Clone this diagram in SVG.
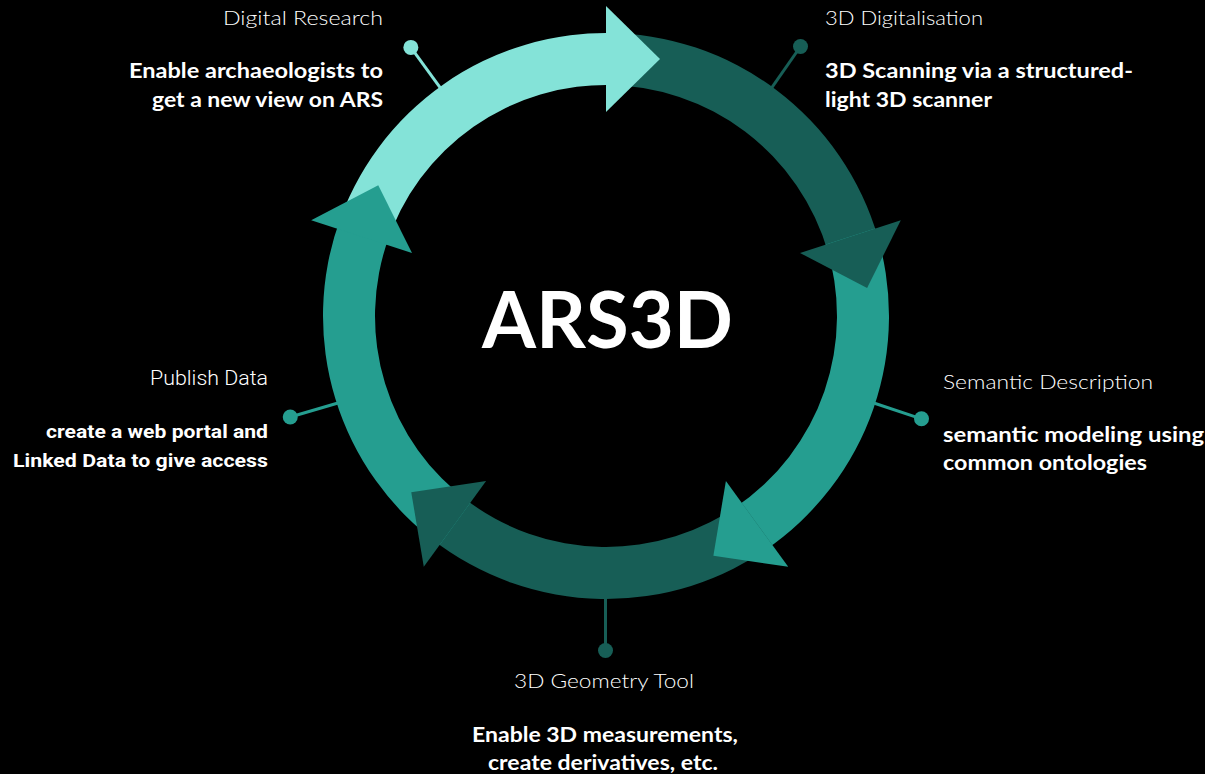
<svg xmlns="http://www.w3.org/2000/svg" width="1205" height="774" viewBox="0 0 1205 774">
  <style>
    .light { fill: #84E3D8; }
    .dark { fill: #175E56; }
    .teal { fill: #259E90; }
    .ls { stroke: #84E3D8; }
    .ds { stroke: #175E56; }
    .ts { stroke: #259E90; }
    .conn line { stroke-width: 3; }
    .title { font-family: Lato, "Open Sans", sans-serif; font-weight: 300; font-size: 20px; fill: #ffffff; }
    .body { font-family: Lato, "Open Sans", sans-serif; font-weight: 700; font-size: 20px; fill: #ffffff; }
    .rtitle { font-family: Roboto, sans-serif; font-weight: 300; font-size: 20px; fill: #ffffff; }
    .rbody { font-family: Roboto, sans-serif; font-weight: 700; font-size: 19px; fill: #ffffff; }
    .center { font-family: Lato, "Open Sans", sans-serif; font-weight: 700; font-size: 78px; fill: #ffffff; }
  </style>
  <rect x="0" y="0" width="1205" height="774" fill="#000000"/>

  <g id="ring">
    <g id="bands">
      <path class="light" d="M336.85,228.55 A283,283 0 0,1 615.88,33.17 L614.06,85.14 A231,231 0 0,0 386.31,244.62 Z"/>
      <path class="dark" d="M606,33 A283,283 0 0,1 878.04,237.99 L828.05,252.33 A231,231 0 0,0 606,85 Z"/>
      <path class="teal" d="M875.15,228.55 A283,283 0 0,1 764.25,550.62 L735.17,507.51 A231,231 0 0,0 825.69,244.62 Z"/>
      <path class="dark" d="M772.34,544.95 A283,283 0 0,1 431.77,539.01 L463.78,498.03 A231,231 0 0,0 741.78,502.88 Z"/>
      <path class="teal" d="M439.66,544.95 A283,283 0 0,1 340.07,219.21 L388.93,236.99 A231,231 0 0,0 470.22,502.88 Z"/>
    </g>
    <g id="heads">
      <polygon class="light" points="606,6 606,112 660,59"/>
      <polygon class="dark" points="900.83,220.20 800.02,252.96 867.1,287.9"/>
      <polygon class="teal" points="788.21,566.80 725.91,481.04 713.37,555.66"/>
      <polygon class="dark" points="423.79,566.80 486.09,481.04 411.25,492.18"/>
      <polygon class="teal" points="311.17,220.20 411.98,252.96 378.27,185.22"/>
    </g>
  </g>

  <g id="connectors" class="conn">
    <line class="ls" x1="441.42" y1="89.47" x2="410.85" y2="47.41"/>
    <line class="ds" x1="770.58" y1="89.47" x2="800.5" y2="46.5"/>
    <line class="ts" x1="872.30" y1="402.53" x2="921.5" y2="418.8"/>
    <line class="ds" x1="605.5" y1="596" x2="605.5" y2="650.5"/>
    <line class="ts" x1="339.70" y1="402.53" x2="290.25" y2="417"/>
  </g>

  <g id="node-digital-research">
    <circle class="light" cx="410.85" cy="47.41" r="7.5"/>
    <text class="title" x="383" y="25" text-anchor="end" textLength="160" lengthAdjust="spacingAndGlyphs">Digital Research</text>
    <text class="body" x="383" y="78" text-anchor="end" textLength="254" lengthAdjust="spacingAndGlyphs">Enable archaeologists to</text>
    <text class="body" x="383" y="107" text-anchor="end" textLength="231" lengthAdjust="spacingAndGlyphs">get a new view on ARS</text>
  </g>

  <g id="node-3d-digitalisation">
    <circle class="dark" cx="800.5" cy="46.5" r="7.5"/>
    <text class="title" x="825" y="25" textLength="158" lengthAdjust="spacingAndGlyphs">3D Digitalisation</text>
    <text class="body" x="825" y="78" textLength="308" lengthAdjust="spacingAndGlyphs">3D Scanning via a structured-</text>
    <text class="body" x="825" y="107" textLength="167" lengthAdjust="spacingAndGlyphs">light 3D scanner</text>
  </g>

  <g id="node-semantic-description">
    <circle class="teal" cx="921.5" cy="418.8" r="7.5"/>
    <text class="title" x="943" y="389" textLength="210" lengthAdjust="spacingAndGlyphs">Semantic Description</text>
    <text class="body" x="943" y="442" textLength="261" lengthAdjust="spacingAndGlyphs">semantic modeling using</text>
    <text class="body" x="943" y="470" textLength="204" lengthAdjust="spacingAndGlyphs">common ontologies</text>
  </g>

  <g id="node-3d-geometry-tool">
    <circle class="dark" cx="605.5" cy="650.5" r="7.5"/>
    <text class="title" x="604" y="688" text-anchor="middle" textLength="180" lengthAdjust="spacingAndGlyphs">3D Geometry Tool</text>
    <text class="body" x="605" y="742" text-anchor="middle" textLength="266" lengthAdjust="spacingAndGlyphs">Enable 3D measurements,</text>
    <text class="body" x="603" y="770" text-anchor="middle" textLength="230" lengthAdjust="spacingAndGlyphs">create derivatives, etc.</text>
  </g>

  <g id="node-publish-data">
    <circle class="teal" cx="290.25" cy="417" r="7.5"/>
    <text class="rtitle" x="268" y="385" text-anchor="end" textLength="118" lengthAdjust="spacingAndGlyphs">Publish Data</text>
    <text class="rbody" x="268" y="438" text-anchor="end" textLength="222" lengthAdjust="spacingAndGlyphs">create a web portal and</text>
    <text class="rbody" x="268" y="467" text-anchor="end" textLength="255" lengthAdjust="spacingAndGlyphs">Linked Data to give access</text>
  </g>

  <g id="node-center">
    <text class="center" x="607.5" y="348" text-anchor="middle" textLength="251" lengthAdjust="spacingAndGlyphs">ARS3D</text>
  </g>
</svg>
